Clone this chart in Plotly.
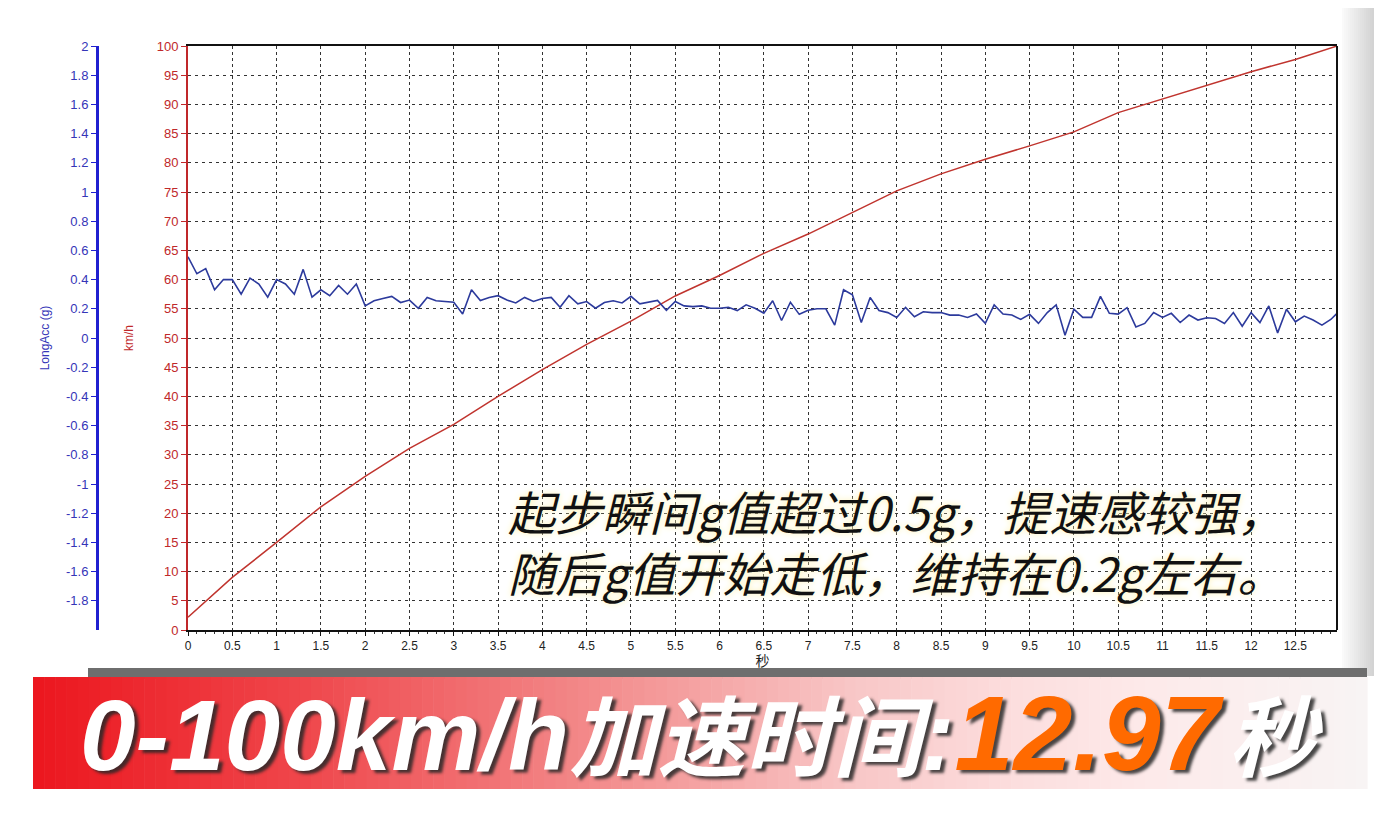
import plotly.graph_objects as go

W, H = 1382, 814
OFF = 8  # 页面 body 默认 8px 外边距

# 纵向加速度 (g)，约每 0.1 秒一个采样
time_s = [0.0, 0.1, 0.2, 0.3, 0.4, 0.5, 0.6, 0.7, 0.8, 0.9,
          1.0, 1.1, 1.2, 1.3, 1.4, 1.5, 1.6, 1.7, 1.8, 1.9,
          2.0, 2.1, 2.2, 2.3, 2.4, 2.5, 2.6, 2.7, 2.8, 2.9,
          3.0, 3.1, 3.2, 3.3, 3.4, 3.5, 3.6, 3.7, 3.8, 3.9,
          4.0, 4.1, 4.2, 4.3, 4.4, 4.5, 4.6, 4.7, 4.8, 4.9,
          5.0, 5.1, 5.2, 5.3, 5.4, 5.5, 5.6, 5.7, 5.8, 5.9,
          6.0, 6.1, 6.2, 6.3, 6.4, 6.5, 6.6, 6.7, 6.8, 6.9,
          7.0, 7.1, 7.2, 7.3, 7.4, 7.5, 7.6, 7.7, 7.8, 7.9,
          8.0, 8.1, 8.2, 8.3, 8.4, 8.5, 8.6, 8.7, 8.8, 8.9,
          9.0, 9.1, 9.2, 9.3, 9.4, 9.5, 9.6, 9.7, 9.8, 9.9,
          10.0, 10.1, 10.2, 10.3, 10.4, 10.5, 10.6, 10.7, 10.8, 10.9,
          11.0, 11.1, 11.2, 11.3, 11.4, 11.5, 11.6, 11.7, 11.8, 11.9,
          12.0, 12.1, 12.2, 12.3, 12.4, 12.5, 12.6, 12.7, 12.8, 12.9, 12.97]
long_acc_g = [0.556, 0.44, 0.475, 0.33, 0.40, 0.40, 0.30, 0.41, 0.37, 0.28,
              0.40, 0.37, 0.30, 0.47, 0.28, 0.33, 0.29, 0.36, 0.30, 0.37,
              0.22, 0.255, 0.27, 0.285, 0.243, 0.26, 0.204, 0.278, 0.255, 0.25,
              0.245, 0.165, 0.33, 0.257, 0.278, 0.29, 0.26, 0.24, 0.278, 0.25,
              0.27, 0.278, 0.21, 0.29, 0.234, 0.25, 0.204, 0.243, 0.255, 0.24,
              0.285, 0.234, 0.243, 0.257, 0.19, 0.25, 0.22, 0.215, 0.22, 0.204,
              0.204, 0.21, 0.188, 0.227, 0.204, 0.17, 0.255, 0.12, 0.245, 0.162,
              0.19, 0.2, 0.2, 0.088, 0.33, 0.296, 0.106, 0.278, 0.188, 0.174,
              0.141, 0.21, 0.146, 0.18, 0.174, 0.174, 0.157, 0.157, 0.141, 0.164,
              0.1, 0.227, 0.164, 0.157, 0.127, 0.162, 0.1, 0.174, 0.227, 0.019,
              0.197, 0.141, 0.141, 0.285, 0.169, 0.164, 0.208, 0.076, 0.1, 0.174,
              0.141, 0.169, 0.106, 0.157, 0.123, 0.139, 0.134, 0.1, 0.174, 0.081,
              0.174, 0.106, 0.22, 0.035, 0.197, 0.111, 0.15, 0.123, 0.088, 0.127, 0.169]

# 车速 (km/h)
speed_t = [0, 0.5, 1.0, 1.5, 2.0, 2.5, 3.0, 3.5, 4.0, 4.5, 5.0, 5.5, 6.0,
           6.5, 7.0, 7.5, 8.0, 8.5, 9.0, 9.5, 10.0, 10.5, 11.0, 11.5, 12.0, 12.5, 12.97]
speed_kmh = [2.2, 9.0, 15.0, 21.1, 26.3, 31.1, 35.2, 40.0, 44.6, 48.9, 52.9, 57.2, 60.7,
             64.5, 67.8, 71.5, 75.2, 78.1, 80.6, 82.9, 85.3, 88.6, 90.9, 93.3, 95.6, 97.7, 100]

g_ticks = [round(-1.8 + 0.2 * i, 1) for i in range(20)]

RED = '#c0282a'
BLUE = '#2020d0'
BLUE_TXT = '#3535b8'


def px(x):
    return (x - OFF) / W


def py(y):
    return 1 - (y - OFF) / H


def mix(c1, c2, f):
    return 'rgb(%d,%d,%d)' % tuple(round(a + (b - a) * f) for a, b in zip(c1, c2))


def gradient(stops, x):
    for (x0, c0), (x1, c1) in zip(stops, stops[1:]):
        if x0 <= x <= x1:
            return mix(c0, c1, (x - x0) / (x1 - x0))
    return mix(stops[-1][1], stops[-1][1], 0)


fig = go.Figure()
fig.add_trace(go.Scatter(x=time_s, y=long_acc_g, mode='lines', yaxis='y2',
                         line=dict(color='#2c3a9c', width=1.6), hoverinfo='skip'))
fig.add_trace(go.Scatter(x=speed_t, y=speed_kmh, mode='lines', yaxis='y',
                         line=dict(color='#c0342e', width=1.5), hoverinfo='skip'))

shapes = []
# 右侧边框
shapes.append(dict(type='line', xref='x domain', yref='y domain', x0=1, x1=1, y0=0, y1=1,
                   line=dict(color='#111', width=2)))

# 页面右侧灰色阴影
n = 20
for i in range(n):
    x0 = 1342 + i * 40 / n
    shapes.append(dict(type='rect', xref='paper', yref='paper', layer='below',
                       x0=px(x0), x1=px(x0 + 40 / n + 0.5), y0=py(676), y1=py(0),
                       line=dict(width=0),
                       fillcolor=mix((250, 250, 250), (200, 200, 200), i / (n - 1))))

# 底部横幅：灰色上沿 + 红到白渐变
shapes.append(dict(type='rect', xref='paper', yref='paper',
                   x0=px(88), x1=px(1367), y0=py(679), y1=py(668),
                   line=dict(width=0), fillcolor='#6e6e6e'))
stops = [(33, (236, 22, 30)), (300, (239, 70, 75)), (620, (243, 145, 145)),
         (850, (248, 198, 198)), (1000, (252, 220, 220)), (1150, (253, 234, 234)),
         (1367, (248, 244, 244))]
n = 120
for i in range(n):
    x0 = 33 + i * (1367 - 33) / n
    shapes.append(dict(type='rect', xref='paper', yref='paper',
                       x0=px(x0), x1=px(x0 + (1367 - 33) / n + 0.6), y0=py(789), y1=py(677),
                       line=dict(width=0), fillcolor=gradient(stops, x0 + 5)))

banner_text = ('0-100km/h<span style="font-size:88px">加速时间</span>:'
               '<span style="color:#ff6a00;font-size:106px">12.97</span>'
               '<span style="font-size:30px"> </span><span style="font-size:88px">秒</span>')

annotations = [
    dict(text='起步瞬间g值超过0.5g，提速感较强，<br>随后g值开始走低，维持在0.2g左右。',
         xref='paper', yref='paper', x=px(506), y=py(541), xanchor='left', yanchor='middle',
         align='left', showarrow=False,
         font=dict(family='Noto Sans CJK SC', size=47, color='#111', style='italic',
                   shadow='0 0 6px #fff3b0')),
    dict(text=banner_text,
         xref='paper', yref='paper', x=px(701), y=py(733), xanchor='center', yanchor='middle',
         showarrow=False,
         font=dict(family='Liberation Sans, Noto Sans CJK SC', size=100, color='white',
                   weight='bold', style='italic', shadow='4px 3px 3px rgba(40,40,40,0.85)')),
]

fig.update_layout(
    width=W, height=H,
    margin=dict(l=0, r=0, t=0, b=0, pad=0),
    paper_bgcolor='white', plot_bgcolor='white',
    showlegend=False,
    font=dict(family='Liberation Sans, Noto Sans CJK SC'),
    xaxis=dict(domain=[px(188), px(1337)], range=[0, 12.97], tick0=0, dtick=0.5,
               automargin=False,
               showgrid=True, gridcolor='#333', griddash='dot', gridwidth=1,
               showline=True, linecolor='#111', linewidth=2, mirror=True, zeroline=False,
               ticks='outside', ticklen=4, tickcolor='#111',
               minor=dict(dtick=0.1, ticks='outside', ticklen=2, tickcolor='#333', showgrid=False),
               tickfont=dict(size=12, color='#222'),
               title=dict(text='秒', font=dict(size=14, color='#222'), standoff=2)),
    yaxis=dict(domain=[py(630), py(46)], range=[0, 100], tick0=0, dtick=5,
               automargin=False,
               showgrid=True, gridcolor='#333', griddash='3px,4px', gridwidth=1,
               showline=True, linecolor=RED, linewidth=2, zeroline=False,
               ticks='outside', ticklen=5, tickcolor=RED,
               tickfont=dict(size=13, color=RED),
               title=dict(text='km/h', font=dict(size=12, color=RED), standoff=20)),
    yaxis2=dict(overlaying='y', anchor='free', position=px(97), side='left',
                automargin=False,
                range=[-2, 2], tickvals=g_ticks, ticktext=[f'{v:g}' for v in g_ticks],
                showgrid=False, zeroline=False,
                showline=True, linecolor=BLUE, linewidth=3,
                ticks='outside', ticklen=5, tickcolor=BLUE,
                tickfont=dict(size=13, color=BLUE_TXT),
                title=dict(text='LongAcc (g)', font=dict(size=12, color=BLUE_TXT), standoff=12)),
    shapes=shapes,
    annotations=annotations,
)

fig.write_html('out.html')
